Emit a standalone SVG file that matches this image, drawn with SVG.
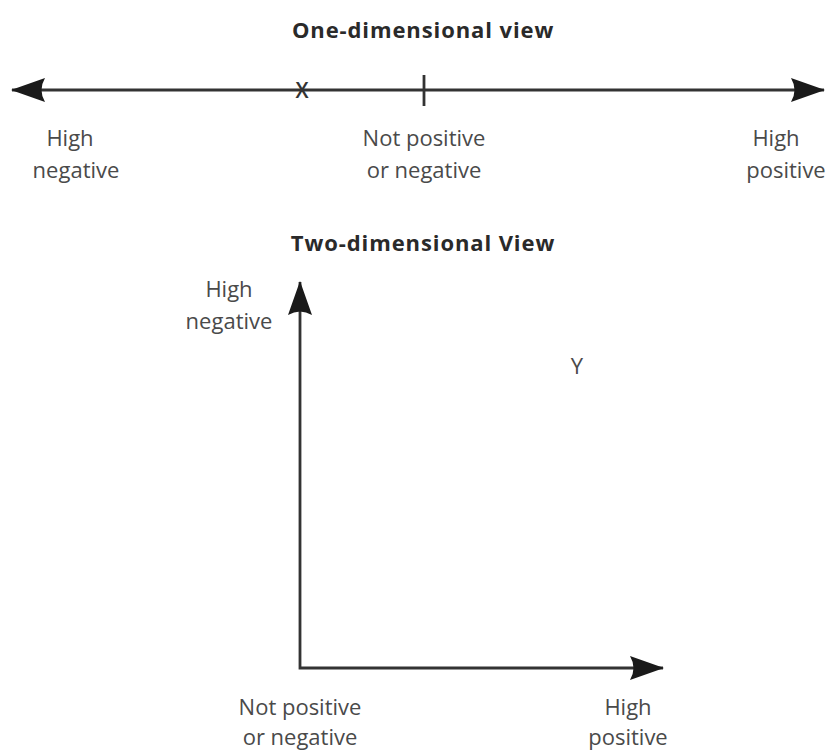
<svg xmlns="http://www.w3.org/2000/svg" width="830" height="751" viewBox="0 0 830 751">
<style>
text{font-family:"Open Sans","Noto Sans","Liberation Sans",sans-serif;fill:#4a4a4a;font-size:22px;text-anchor:middle}
.t{font-weight:bold;fill:#2a2a2a;font-size:22px;letter-spacing:0.9px}
.ax{stroke:#333;stroke-width:2.8;fill:none}
</style>
<defs>
<marker id="ah" viewBox="0 0 34 24" refX="33" refY="12" markerWidth="34" markerHeight="24" markerUnits="userSpaceOnUse" orient="auto-start-reverse">
<path d="M0,0 L34,12 L0,24 Q7,12 0,0 Z" fill="#1a1a1a"/>
</marker>
</defs>
<rect width="830" height="751" fill="#fff"/>
<text class="t" x="423" y="38">One-dimensional view</text>
<text class="t" x="423" y="251">Two-dimensional View</text>
<g id="connectors">
<line id="axis1d" class="ax" x1="12" y1="90" x2="824" y2="90" marker-start="url(#ah)" marker-end="url(#ah)"/>
<line id="tick" class="ax" x1="424" y1="75" x2="424" y2="106"/>
<path id="axes2d" class="ax" d="M300,282 L300,668 L663,668" marker-start="url(#ah)" marker-end="url(#ah)"/>
</g>
<g id="x-mark"><text x="302" y="98" style="font-size:21px;font-weight:600;fill:#333">X</text></g>
<g id="label-high-negative"><text x="70" y="146">High</text><text x="76" y="178">negative</text></g>
<g id="label-neutral"><text x="424" y="146">Not positive</text><text x="424" y="178">or negative</text></g>
<g id="label-high-positive"><text x="776" y="146">High</text><text x="786" y="178">positive</text></g>
<g id="label-2d-high-negative"><text x="229" y="297">High</text><text x="229" y="329">negative</text></g>
<g id="y-mark"><text x="577" y="374">Y</text></g>
<g id="label-2d-neutral"><text x="300" y="715">Not positive</text><text x="300" y="745">or negative</text></g>
<g id="label-2d-high-positive"><text x="628" y="715">High</text><text x="628" y="745">positive</text></g>
</svg>
